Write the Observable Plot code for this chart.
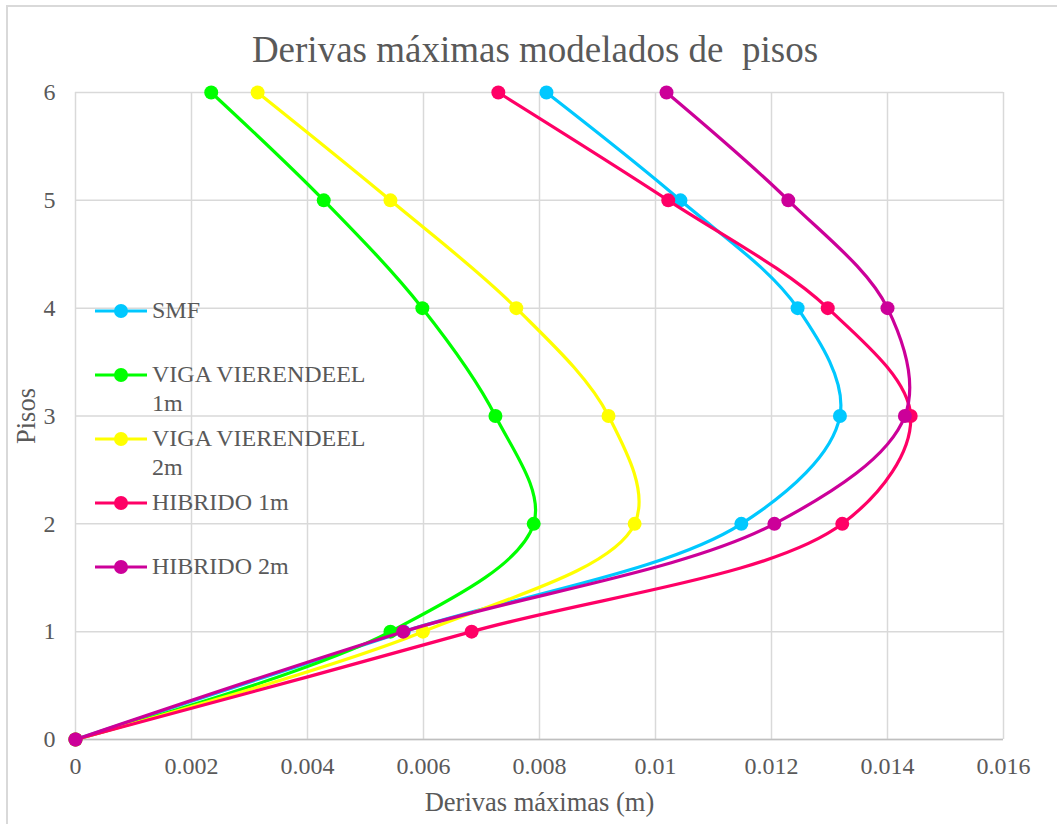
<!DOCTYPE html>
<html>
<head>
<meta charset="utf-8">
<script src="https://cdn.jsdelivr.net/npm/d3@7"></script>
<script src="https://cdn.jsdelivr.net/npm/@observablehq/plot@0.6"></script>
<style>
  html, body { margin: 0; padding: 0; background: #fff; }
  #wrap { position: relative; width: 1057px; height: 824px; font-family: 'Liberation Serif'; color: #595959; overflow: hidden; }
  #border { position: absolute; left: 6px; top: 5px; width: 1080px; height: 840px; border: 2px solid #d9d9d9; box-sizing: border-box; }
  #title { position: absolute; left: 0; width: 1070px; top: 30px; text-align: center; font-family: 'Liberation Serif'; font-size: 37px; line-height: 40px; white-space: pre; color: #595959; }
  #chart { position: absolute; left: 0; top: 0; }
  #chart svg text { font-family: 'Liberation Serif'; }
  #chart g[aria-label="x-axis tick label"], #chart g[aria-label="y-axis tick label"] { font-size: 24px; }
  #chart g[aria-label="x-axis label"], #chart g[aria-label="y-axis label"] { font-size: 26.5px; }
  #legend { position: absolute; left: 93px; top: 0; font-family: 'Liberation Serif'; font-size: 24px; color: #595959; }
  .item { position: absolute; left: 0; white-space: nowrap; line-height: 29px; }
  .item svg { position: absolute; left: 0; top: 5px; }
  .item span { position: absolute; left: 59px; top: 0; }
</style>
</head>
<body>
<div id="wrap">
  <div id="border"></div>
  <div id="chart"></div>
  <div id="title">Derivas máximas modelados de  pisos</div>
  <div id="legend"></div>
</div>
<script>
const floors = [0, 1, 2, 3, 4, 5, 6];
const seriesNames = ["SMF", "VIGA VIERENDEEL 1m", "VIGA VIERENDEEL 2m", "HIBRIDO 1m", "HIBRIDO 2m"];
const seriesColors = ["#00c8ff", "#00ff00", "#ffff00", "#ff0066", "#cc0099"];
const smf = [0, 0.00566, 0.01148, 0.01318, 0.01245, 0.01043, 0.00812];
const viga1m = [0, 0.00543, 0.00790, 0.00724, 0.00598, 0.00428, 0.00234];
const viga2m = [0, 0.00599, 0.00964, 0.00919, 0.00760, 0.00543, 0.00314];
const hibrido1m = [0, 0.00683, 0.01322, 0.01440, 0.01297, 0.01022, 0.00729];
const hibrido2m = [0, 0.00565, 0.01205, 0.01430, 0.01400, 0.01229, 0.01019];
const xTicks = [0, 0.002, 0.004, 0.006, 0.008, 0.01, 0.012, 0.014, 0.016];
const yTicks = [0, 1, 2, 3, 4, 5, 6];
const legendLabels = [["SMF"], ["VIGA VIERENDEEL", "1m"], ["VIGA VIERENDEEL", "2m"], ["HIBRIDO 1m"], ["HIBRIDO 2m"]];

const allSeries = [smf, viga1m, viga2m, hibrido1m, hibrido2m];
const rows = [];
allSeries.forEach((vals, i) => {
  vals.forEach((v, j) => rows.push({ serie: seriesNames[i], x: v, y: floors[j] }));
});

const marks = [
  Plot.gridX(xTicks, { stroke: "#d9d9d9", strokeOpacity: 1, strokeWidth: 1.5 }),
  Plot.gridY(yTicks, { stroke: "#d9d9d9", strokeOpacity: 1, strokeWidth: 1.5 }),
  Plot.ruleY([0], { stroke: "#bfbfbf", strokeWidth: 1.5 }),
  Plot.axisX(xTicks, { tickSize: 0, tickPadding: 17, tickFormat: d => String(d), fill: "#595959", label: "Derivas máximas (m)", labelAnchor: "center", labelArrow: "none", labelOffset: 71 }),
  Plot.axisY(yTicks, { tickSize: 0, tickPadding: 20, tickFormat: d => String(d), fill: "#595959", label: "Pisos", labelAnchor: "center", labelArrow: "none", labelOffset: 59 })
];
seriesNames.forEach((name, i) => {
  const d = rows.filter(r => r.serie === name);
  marks.push(Plot.line(d, { x: "x", y: "y", stroke: seriesColors[i], strokeWidth: 3.2, curve: "catmull-rom" }));
  marks.push(Plot.dot(d, { x: "x", y: "y", fill: seriesColors[i], r: 7 }));
});

const plot = Plot.plot({
  width: 1057,
  height: 824,
  marginLeft: 75,
  marginRight: 54,
  marginTop: 92,
  marginBottom: 85,
  style: { fontFamily: "Liberation Serif", fontSize: "24px", color: "#595959", background: "transparent" },
  x: { domain: [0, 0.016] },
  y: { domain: [0, 6] },
  marks
});
document.getElementById("chart").appendChild(plot);

const legendTops = [296, 360, 424, 488, 552];
const legend = document.getElementById("legend");
legendLabels.forEach((lines, i) => {
  const div = document.createElement("div");
  div.className = "item";
  div.style.top = legendTops[i] + "px";
  div.innerHTML = `<svg width="56" height="20"><line x1="2" y1="10" x2="54" y2="10" stroke="${seriesColors[i]}" stroke-width="3.2"/><circle cx="28" cy="10" r="7" fill="${seriesColors[i]}"/></svg><span>${lines.join("<br>")}</span>`;
  legend.appendChild(div);
});
</script>
</body>
</html>
